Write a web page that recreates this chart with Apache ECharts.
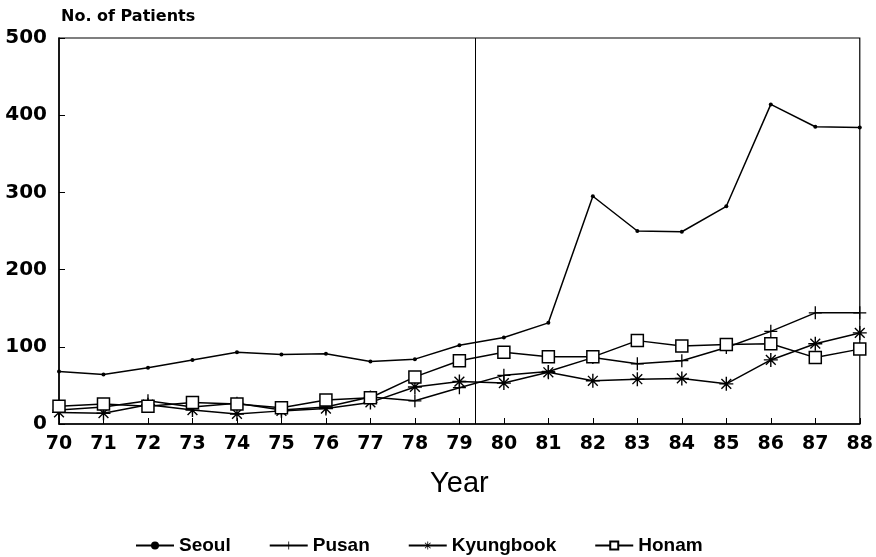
<!DOCTYPE html>
<html>
<head>
<meta charset="utf-8">
<script src="https://cdn.jsdelivr.net/npm/echarts@6/dist/echarts.min.js"></script>
<style>
  html, body { margin: 0; padding: 0; background: #fff; }
  #main { width: 876px; height: 557px; }
</style>
</head>
<body>
<div id="main"></div>
<script>
// years on the x axis (19 points, 70..88)
const years = [70, 71, 72, 73, 74, 75, 76, 77, 78, 79, 80, 81, 82, 83, 84, 85, 86, 87, 88];

const seoul     = [68, 64, 73, 83, 93, 90, 91, 81, 84, 102, 112, 131, 295, 250, 249, 282, 414, 385, 384];
const pusan     = [18, 22, 30, 22, 27, 18, 22, 35, 30, 47, 63, 68, 86, 78, 82, 99, 120, 144, 144];
const kyungbook = [15, 14, 25, 18, 13, 17, 20, 28, 48, 55, 53, 67, 56, 58, 59, 52, 83, 104, 118];
const honam     = [23, 26, 23, 28, 26, 21, 31, 34, 61, 82, 93, 87, 87, 108, 101, 103, 104, 86, 97];

const yTicks = [0, 100, 200, 300, 400, 500];
const dividerYear = 79.35;

const plusPath = 'path://M-1,-10 L1,-10 L1,10 L-1,10 Z M-10,-1 L10,-1 L10,1 L-10,1 Z';
const starPath = 'path://M-1,-10 L1,-10 L1,10 L-1,10 Z M-10,-1 L10,-1 L10,1 L-10,1 Z ' +
  'M-6.3,-7.7 L7.7,6.3 L6.3,7.7 L-7.7,-6.3 Z M6.3,-7.7 L7.7,-6.3 L-6.3,7.7 L-7.7,6.3 Z';

const pair = (vals) => vals.map((v, i) => [years[i], v]);

const chart = echarts.init(document.getElementById('main'));

const lineBase = {
  type: 'line',
  lineStyle: { color: '#000', width: 1.5 },
  itemStyle: { color: '#000' },
  showAllSymbol: true,
  animation: false
};

const tickFont = 'DejaVu Sans, sans-serif';

chart.setOption({
  backgroundColor: '#fff',
  textStyle: { fontFamily: 'Liberation Sans, Arial, sans-serif', color: '#000' },
  title: {
    text: 'No. of Patients',
    left: 56,
    top: 4,
    textStyle: { fontSize: 16, fontWeight: 'bold', color: '#000', fontFamily: tickFont }
  },
  grid: {
    left: 59, right: 13, top: 38, bottom: 133,
    show: true, borderColor: '#000', borderWidth: 1.2
  },
  xAxis: {
    type: 'value',
    min: 70, max: 88, interval: 1,
    name: 'Year',
    nameLocation: 'middle',
    nameGap: 45,
    nameTextStyle: { fontSize: 29, color: '#000' },
    axisLine: { lineStyle: { color: '#000', width: 1.5 } },
    axisTick: { inside: true, length: 6, lineStyle: { color: '#000' } },
    axisLabel: { fontSize: 19, fontWeight: 'bold', color: '#000', margin: 11, fontFamily: tickFont },
    splitLine: { show: false }
  },
  yAxis: {
    type: 'value',
    min: 0, max: 500, interval: 100,
    axisLine: { show: true, lineStyle: { color: '#000', width: 1.5 } },
    axisTick: { show: true, inside: true, length: 6, lineStyle: { color: '#000' } },
    axisLabel: {
      fontSize: 20, fontWeight: 'bold', color: '#000', margin: 12, fontFamily: tickFont,
      padding: [7, 0, 0, 0],
      formatter: (v) => yTicks.includes(v) ? String(v) : ''
    },
    splitLine: { show: false }
  },
  legend: {
    top: 531,
    left: 130,
    itemGap: 38,
    itemWidth: 38,
    itemHeight: 10,
    textStyle: { fontSize: 19, fontWeight: 'bold', color: '#000' },
    data: ['Seoul', 'Pusan', 'Kyungbook', 'Honam']
  },
  series: [
    Object.assign({}, lineBase, {
      name: 'Seoul',
      data: pair(seoul),
      symbol: 'circle',
      symbolSize: 4,
      markLine: {
        silent: true,
        symbol: 'none',
        label: { show: false },
        lineStyle: { color: '#000', width: 1, type: 'solid' },
        data: [{ xAxis: dividerYear }]
      }
    }),
    Object.assign({}, lineBase, {
      name: 'Pusan',
      data: pair(pusan),
      symbol: plusPath,
      symbolSize: 13
    }),
    Object.assign({}, lineBase, {
      name: 'Kyungbook',
      data: pair(kyungbook),
      symbol: starPath,
      symbolSize: 14
    }),
    Object.assign({}, lineBase, {
      name: 'Honam',
      data: pair(honam),
      symbol: 'rect',
      symbolSize: 12,
      itemStyle: { color: '#fff', borderColor: '#000', borderWidth: 1.5 }
    })
  ]
});
</script>
</body>
</html>
